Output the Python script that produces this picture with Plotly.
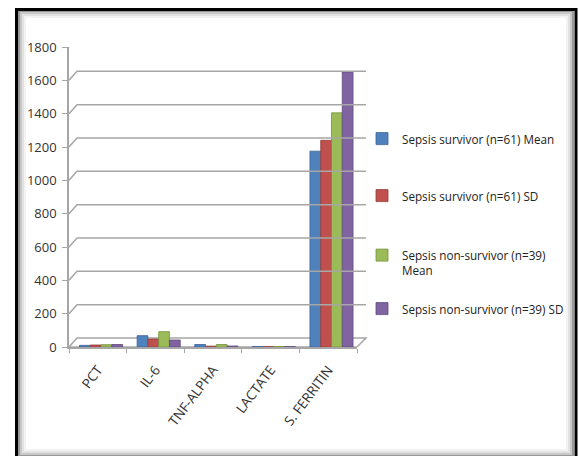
import plotly.graph_objects as go

categories = ["PCT", "IL-6", "TNF-ALPHA", "LACTATE", "S. FERRITIN"]
series_names = [
    "Sepsis survivor (n=61) Mean",
    "Sepsis survivor (n=61) SD",
    "Sepsis non-survivor (n=39)<br>Mean",
    "Sepsis non-survivor (n=39) SD",
]
survivor_mean = [10, 68, 15, 3, 1175]
survivor_sd = [12, 48, 5, 2, 1240]
nonsurvivor_mean = [14, 92, 15, 3, 1405]
nonsurvivor_sd = [15, 42, 6, 2, 1650]
series_values = [survivor_mean, survivor_sd, nonsurvivor_mean, nonsurvivor_sd]
colors = ["#4F81BD", "#C0504D", "#9BBB59", "#8064A2"]
edge_colors = ["#3A6596", "#963C3A", "#76923C", "#5F4A7C"]
y_ticks = [0, 200, 400, 600, 800, 1000, 1200, 1400, 1600, 1800]

W, H = 579, 456
L, T, PW, PH = 69, 47, 288, 300

def px(x):
    return (x - L) / PW

def py(y):
    return (T + PH - y) / PH

FONT = "Open Sans, Arial, sans-serif"

legend_ids = ["legend", "legend2", "legend3", "legend4"]
legend_centers = [139, 196, 263, 309]

BW = 0.187          # bar width (category units)
SHIFT = 0.057       # depth shift of the bars, as in the 3D original

fig = go.Figure()
for i, (name, vals) in enumerate(zip(series_names, series_values)):
    fig.add_trace(go.Bar(
        x=categories, y=vals, name=name,
        width=BW, offset=-2 * BW + SHIFT + i * BW,
        marker=dict(color=colors[i], line=dict(color=edge_colors[i], width=0.8)),
        legend=legend_ids[i],
    ))

shapes = []
# 3D style gridlines on the back wall (offset up/right), drawn per tick value
dy = 9 * 1800 / PH
for v in y_ticks[1:]:
    shapes.append(dict(type="path", xref="paper", yref="y",
                       path=f"M {px(69)},{v} L {px(77)},{v + dy} L {px(366)},{v + dy}",
                       line=dict(color="#A6A6A6", width=1.5)))
# floor
shapes.append(dict(type="path", xref="paper", yref="y",
                   path=f"M {px(69)},0 L {px(77)},{dy} L {px(366)},{dy} L {px(357)},0 Z",
                   line=dict(color="#A6A6A6", width=1.5), fillcolor="rgba(0,0,0,0)",
                   layer="below"))
# frame with inner shadow
for (x0, y0, x1, y1, c, w) in [
    (25, 17, 567, 450, "#F3F3F3", 2),
    (23, 15, 569, 452, "#E2E2E2", 2),
    (21, 13, 571, 454, "#C8C8C8", 2),
    (19, 11, 573, 456, "#999999", 2),
    (16.5, 9.5, 576, 459, "#000000", 3),
]:
    shapes.append(dict(type="rect", xref="paper", yref="paper",
                       x0=px(x0), x1=px(x1), y0=py(y1), y1=py(y0),
                       line=dict(color=c, width=w)))

layout = dict(
    width=W, height=H,
    margin=dict(l=L, r=W - L - PW, t=T, b=H - T - PH, pad=0, autoexpand=False),
    paper_bgcolor="white", plot_bgcolor="rgba(0,0,0,0)",
    barmode="group",
    font=dict(family=FONT, size=12, color="#333333"),
    shapes=shapes,
    showlegend=True,
    xaxis=dict(range=[-0.5, 4.5], showgrid=False, showline=True, linecolor="#A6A6A6",
               linewidth=1.5, ticks="outside", tickson="boundaries", ticklen=4,
               tickcolor="#A6A6A6", tickangle=-53, ticklabelstandoff=8,
               tickfont=dict(size=13.5, color="#333333")),
    yaxis=dict(range=[0, 1800], tickvals=y_ticks, showgrid=False, zeroline=False,
               showline=True, linecolor="#A6A6A6", linewidth=1.5,
               ticks="outside", ticklen=5, tickcolor="#A6A6A6", ticklabelstandoff=3,
               tickfont=dict(size=13, color="#333333")),
)
for lid, cy in zip(legend_ids, legend_centers):
    layout[lid] = dict(xref="container", yref="container",
                       x=362 / W, xanchor="left", y=1 - cy / H, yanchor="middle",
                       font=dict(family=FONT, size=11.7, color="#222222"),
                       valign="top", bgcolor="rgba(0,0,0,0)")
fig.update_layout(**layout)

fig.write_html("out.html")
